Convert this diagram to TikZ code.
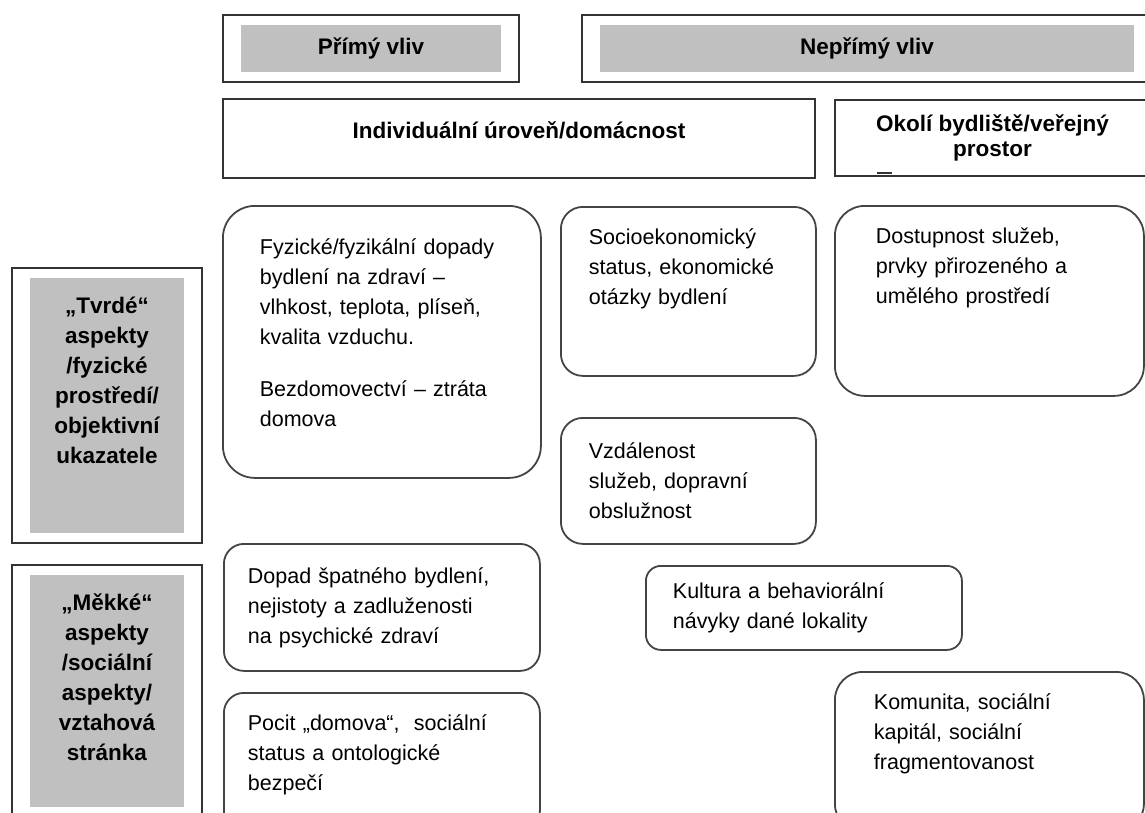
\documentclass[tikz,border=0pt]{standalone}
\usepackage{fontspec}
\setmainfont{Liberation Sans}
\usepackage{xcolor}
\usepackage{tikz}
\usetikzlibrary{positioning,fit}
\definecolor{labelgrey}{HTML}{C0C0C0}
\definecolor{framegrey}{HTML}{333333}
\definecolor{boxline}{HTML}{444444}

\begin{document}
\begin{tikzpicture}[
  x=1pt, y=-1pt,
  font=\fontsize{21.5}{30}\selectfont,
  band/.style={
    rectangle, fill=labelgrey, inner sep=0pt, align=center,
    font=\fontsize{22.5}{30}\selectfont\bfseries
  },
  side/.style={
    band, anchor=north, text width=154pt, minimum width=154pt,
    text height=17pt, inner ysep=18pt
  },
  frame/.style={
    rectangle, draw=framegrey, line width=2pt, inner xsep=18pt, inner ysep=10pt
  },
  level/.style={
    rectangle, draw=framegrey, line width=1.6pt, align=center, inner sep=0pt,
    font=\fontsize{22.5}{25}\selectfont\bfseries
  },
  item/.style={
    rectangle, rounded corners=22pt, draw=boxline, line width=1.8pt,
    align=left, anchor=north west
  },
  toptext/.style={text height=15pt, inner ysep=23pt, text depth=#1}
]
\useasboundingbox (0,0) rectangle (1145,813);
\clip (0,0) rectangle (1145,813);

\node[band, minimum width=260pt, minimum height=47pt] (primy) at (371,48.5) {Přímý vliv};
\node[band, minimum width=534pt, minimum height=47pt] (neprimy) at (867,48.5) {Nepřímý vliv};
\node[frame, fit=(primy)] (primyframe) {};
\node[frame, fit=(neprimy)] (neprimyframe) {};

\node[level, minimum width=592pt, minimum height=79pt, text depth=17pt] (individ) at (519,138.5) {Individuální úroveň/domácnost};
\node[level, minimum width=315pt, minimum height=76pt] (okoli) at (992.5,138) {Okolí bydliště/veřejný\\prostor};
\draw[line width=1.2pt, framegrey] (877,173) -- (892,173);

\node[side, text depth=202pt] (tvrde) at (107,278) {„Tvrdé“\\aspekty\\/fyzické\\prostředí/\\objektivní\\ukazatele};
\node[side, text depth=179pt] (mekke) at (107,575) {„Měkké“\\aspekty\\/sociální\\aspekty/\\vztahová\\stránka};
\node[frame, fit=(tvrde)] (tvrdeframe) {};
\node[frame, fit=(mekke)] (mekkeframe) {};

\node[item, rounded corners=32pt, text width=244pt, inner xsep=37pt, toptext=189pt, inner ysep=34pt,
  font=\fontsize{21.5}{30}\selectfont] (fyzicke) at (222,205)
  {Fyzické/fyzikální dopady\\bydlení na zdraví –\\vlhkost, teplota, plíseň,\\kvalita vzduchu.\\[22pt]Bezdomovectví – ztráta\\domova};
\node[item, text width=199pt, inner xsep=28pt, toptext=108pt] (socio) at (560,206)
  {Socioekonomický\\status, ekonomické\\otázky bydlení};
\node[item, rounded corners=30pt, text width=227pt, inner xsep=41pt, toptext=129pt] (dostupnost) at (834,205)
  {Dostupnost služeb,\\prvky přirozeného a\\umělého prostředí};
\node[item, text width=199pt, inner xsep=28pt, minimum height=126pt] (vzdalenost) at (560,417)
  {Vzdálenost\\služeb, dopravní\\obslužnost};
\node[item, rounded corners=20pt, text width=268pt, inner xsep=24pt, minimum height=127pt] (dopad) at (223,543)
  {Dopad špatného bydlení,\\nejistoty a zadluženosti\\na psychické zdraví};
\node[item, rounded corners=20pt, text width=268pt, inner xsep=24pt, toptext=77pt] (pocit) at (223,692)
  {Pocit „domova“,~ sociální\\status a ontologické\\bezpečí};
\node[item, rounded corners=15pt, text width=262pt, inner xsep=27pt, minimum height=84pt] (kultura) at (645,565)
  {Kultura a behaviorální\\návyky dané lokality};
\node[item, rounded corners=28pt, text width=231pt, inner xsep=39pt, toptext=99pt] (komunita) at (834,671)
  {Komunita, sociální\\kapitál, sociální\\fragmentovanost};

\end{tikzpicture}
\end{document}
